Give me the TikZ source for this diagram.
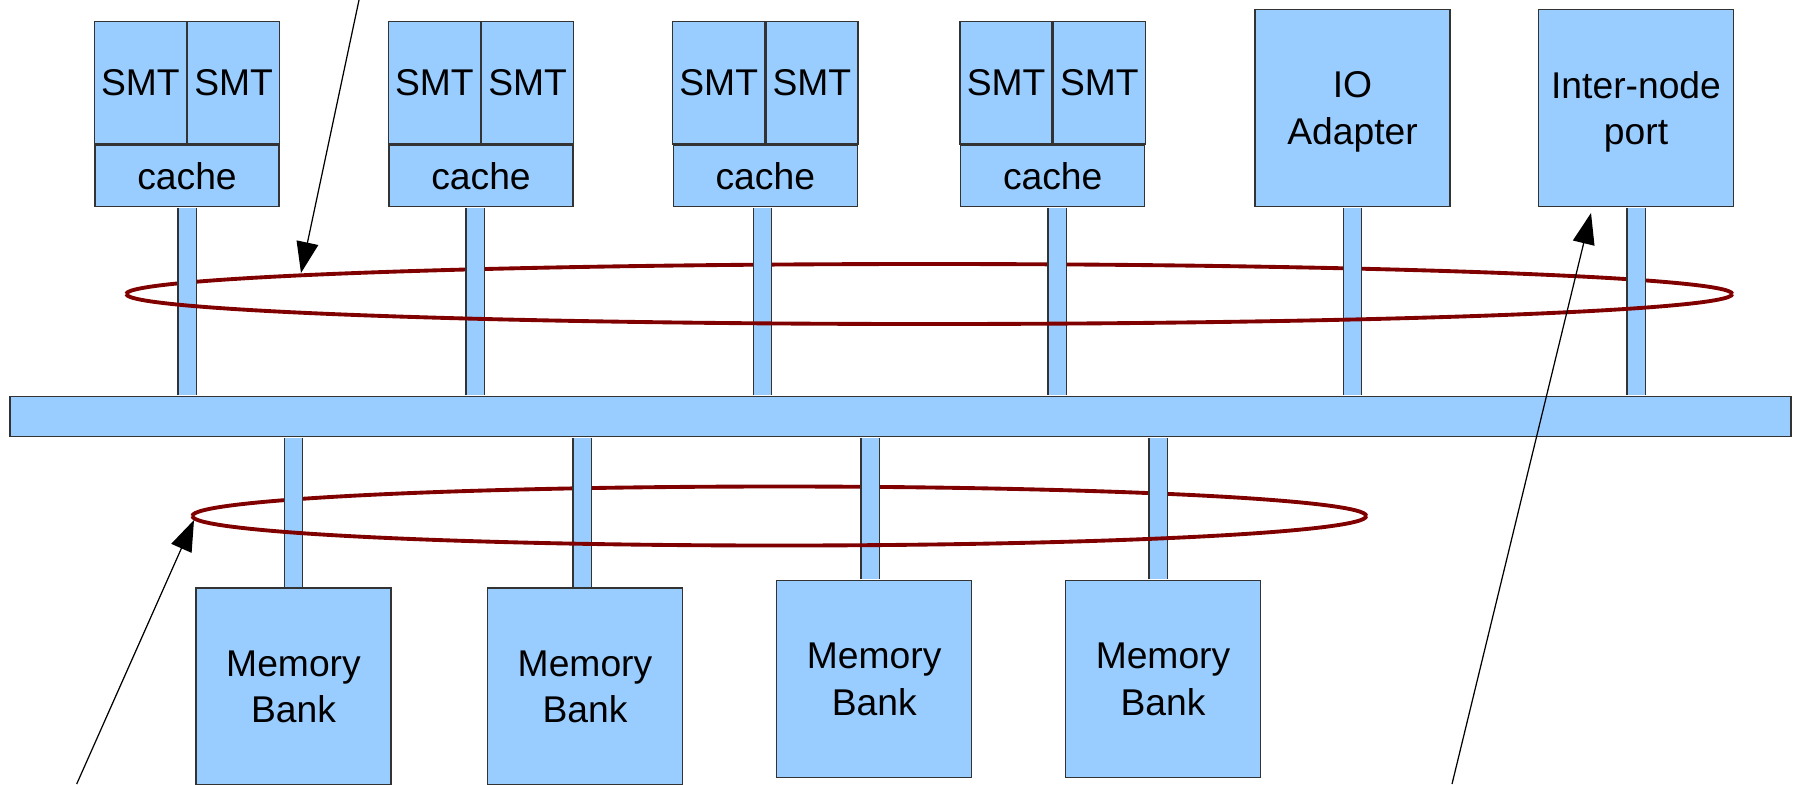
\documentclass[tikz,border=0pt]{standalone}
\usepackage{fontspec}
\setmainfont{Liberation Sans}
\usetikzlibrary{arrows.meta}
\usetikzlibrary{shapes.geometric}

\definecolor{paleblue}{RGB}{153,204,255}
\definecolor{ringred}{RGB}{128,0,0}
\tikzset{
unit/.style={draw=black!80, fill=paleblue, line width=0.35pt, inner sep=0pt, align=center, font=\fontsize{10.6}{13.2}\selectfont},
smt/.style={unit, minimum width=0.92cm, minimum height=1.226cm},
cachebox/.style={unit, minimum width=1.84cm, minimum height=0.612cm},
bigbox/.style={unit, minimum width=1.95cm, minimum height=1.97cm, text depth=0pt},
stem/.style={draw=black!80, line width=0.35pt, double=paleblue, double distance=0.17cm, shorten <=0.2pt, shorten >=0.2pt},
ring/.style={draw=ringred, line width=1.1pt},
pointer/.style={-{Triangle[length=0.31cm,width=0.22cm]}, line width=0.35pt}}

\begin{document}
\begin{tikzpicture}
    \useasboundingbox (0,0) rectangle (17.96,7.84);

                % processors
                \node[cachebox] (cache1) at (1.87,6.081) {cache};
                \node[smt, anchor=south east] (smt1a) at (cache1.north) {SMT};
                \node[smt, anchor=south west] (smt1b) at (cache1.north) {SMT};
                \node[cachebox] (cache2) at (4.81,6.081) {cache};
                \node[smt, anchor=south east] (smt2a) at (cache2.north) {SMT};
                \node[smt, anchor=south west] (smt2b) at (cache2.north) {SMT};
                \node[cachebox] (cache3) at (7.653,6.081) {cache};
                \node[smt, anchor=south east] (smt3a) at (cache3.north) {SMT};
                \node[smt, anchor=south west] (smt3b) at (cache3.north) {SMT};
                \node[cachebox] (cache4) at (10.527,6.081) {cache};
                \node[smt, anchor=south east] (smt4a) at (cache4.north) {SMT};
                \node[smt, anchor=south west] (smt4b) at (cache4.north) {SMT};
                \node[bigbox] (io) at (13.525,6.762) {IO\\Adapter};
                \node[bigbox] (port) at (16.36,6.762) {Inter-node\\port};

                % bus
                \node[unit, minimum width=17.81cm, minimum height=0.4cm] (bus) at (9.005,3.673) {};

                % memory
                \node[bigbox] (mem1) at (2.935,0.975) {Memory\\Bank};
                \node[bigbox] (mem2) at (5.85,0.975) {Memory\\Bank};
                \node[bigbox] (mem3) at (8.742,1.048) {Memory\\Bank};
                \node[bigbox] (mem4) at (11.63,1.048) {Memory\\Bank};

                % rings
                \node[ellipse, minimum width=16.06cm, minimum height=0.6cm, inner sep=0pt] (ring1) at (9.30,4.90) {};
                \node[ellipse, minimum width=11.74cm, minimum height=0.59cm, inner sep=0pt] (ring2) at (7.80,2.68) {};
                \draw[ring] (ring1.west) arc[start angle=180, end angle=0, x radius=8.03cm, y radius=0.3cm];
                \draw[ring] (ring2.west) arc[start angle=180, end angle=0, x radius=5.87cm, y radius=0.295cm];

                % stems
                \draw[stem] (cache1.south) -- (cache1.south |- bus.north);
                \draw[stem] ([xshift=-0.6mm]cache2.south) -- ([xshift=-0.6mm]cache2.south |- bus.north);
                \draw[stem] ([xshift=-0.3mm]cache3.south) -- ([xshift=-0.3mm]cache3.south |- bus.north);
                \draw[stem] ([xshift=0.45mm]cache4.south) -- ([xshift=0.45mm]cache4.south |- bus.north);
                \draw[stem] (io.south) -- (io.south |- bus.north);
                \draw[stem] (port.south) -- (port.south |- bus.north);
                \draw[stem] (mem1.north) -- (mem1.north |- bus.south);
                \draw[stem] ([xshift=-0.3mm]mem2.north) -- ([xshift=-0.3mm]mem2.north |- bus.south);
                \draw[stem] ([xshift=-0.4mm]mem3.north) -- ([xshift=-0.4mm]mem3.north |- bus.south);
                \draw[stem] ([xshift=-0.5mm]mem4.north) -- ([xshift=-0.5mm]mem4.north |- bus.south);

                \draw[ring] (ring1.west) arc[start angle=180, end angle=360, x radius=8.03cm, y radius=0.3cm];
                \draw[ring] (ring2.west) arc[start angle=180, end angle=360, x radius=5.87cm, y radius=0.295cm];

                % pointers
                \coordinate (tail1) at (3.59,7.84);
                \coordinate (tip1) at (3.01,5.11);
                \coordinate (tail2) at (0.767,0);
                \coordinate (tip2) at (1.94,2.64);
                \coordinate (tail3) at (14.52,0);
                \coordinate (tip3) at (15.91,5.71);
                \draw[pointer] (tail1) -- (tip1);
                \draw[pointer] (tail2) -- (tip2);
                \draw[pointer] (tail3) -- (tip3);

            \end{tikzpicture}
\end{document}
